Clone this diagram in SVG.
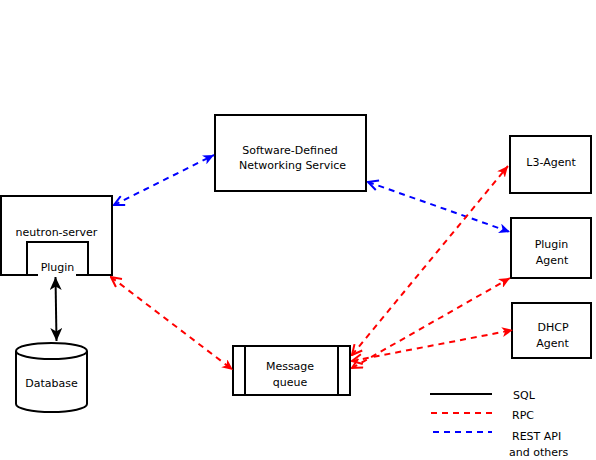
<svg xmlns="http://www.w3.org/2000/svg" width="596" height="460" viewBox="0 0 596 460">
<style>
.box{fill:#fff;stroke:#000;stroke-width:2}
.t{font-family:"DejaVu Sans",Verdana,sans-serif;font-size:11px;fill:#000;text-anchor:middle}
.tl{font-family:"DejaVu Sans",Verdana,sans-serif;font-size:11px;fill:#000}
.red{fill:none;stroke:#ff0000;stroke-width:2;stroke-dasharray:6 5}
.blue{fill:none;stroke:#0000ff;stroke-width:2;stroke-dasharray:6 5}
.blk{fill:none;stroke:#000;stroke-width:2}
</style>
<defs>
<marker id="fr" markerUnits="userSpaceOnUse" markerWidth="12" markerHeight="10" refX="11" refY="5" orient="auto-start-reverse" viewBox="0 0 12 10"><path d="M0,0 L11,5 L0,10 L3,5 Z" fill="#ff0000"/></marker>
<marker id="fb" markerUnits="userSpaceOnUse" markerWidth="12" markerHeight="10" refX="11" refY="5" orient="auto-start-reverse" viewBox="0 0 12 10"><path d="M0,0 L11,5 L0,10 L3,5 Z" fill="#0000ff"/></marker>
<marker id="fk" markerUnits="userSpaceOnUse" markerWidth="14" markerHeight="12" refX="13" refY="6" orient="auto-start-reverse" viewBox="0 0 14 12"><path d="M0,0 L13,6 L0,12 L3.5,6 Z" fill="#000"/></marker>
<marker id="or" markerUnits="userSpaceOnUse" markerWidth="12" markerHeight="12" refX="11" refY="6" orient="auto-start-reverse" viewBox="0 0 12 12"><path d="M1,1 L11,6 L1,11" fill="none" stroke="#ff0000" stroke-width="2"/></marker>
<marker id="ob" markerUnits="userSpaceOnUse" markerWidth="12" markerHeight="12" refX="11" refY="6" orient="auto-start-reverse" viewBox="0 0 12 12"><path d="M1,1 L11,6 L1,11" fill="none" stroke="#0000ff" stroke-width="2"/></marker>
</defs>
<rect width="596" height="460" fill="#fff"/>

<g id="neutron-server">
<rect class="box" x="1" y="196" width="111" height="79"/>
<text class="t" x="56.5" y="236">neutron-server</text>
</g>
<g id="plugin">
<rect class="box" x="27" y="242" width="61" height="33"/>
<rect x="38" y="261" width="38" height="16" fill="#fff"/>
<text class="t" x="57.5" y="271">Plugin</text>
</g>
<g id="database">
<path class="box" d="M16,351 A35.5,8 0 0 1 87,351 L87,404 A35.5,8 0 0 1 16,404 Z"/>
<path class="blk" d="M16,351 A35.5,8 0 0 0 87,351"/>
<text class="t" x="51.5" y="387">Database</text>
</g>
<g id="sdn">
<rect class="box" x="215" y="115" width="151" height="76"/>
<text class="t" x="290" y="154">Software-Defined</text>
<text class="t" x="292.5" y="169">Networking Service</text>
</g>
<g id="l3-agent">
<rect class="box" x="510" y="136" width="81" height="57"/>
<text class="t" x="551" y="166">L3-Agent</text>
</g>
<g id="plugin-agent">
<rect class="box" x="511" y="218" width="80" height="60"/>
<text class="t" x="551.5" y="248">Plugin</text>
<text class="t" x="552" y="264">Agent</text>
</g>
<g id="dhcp-agent">
<rect class="box" x="512" y="303" width="79" height="55"/>
<text class="t" x="553" y="331">DHCP</text>
<text class="t" x="552.5" y="347">Agent</text>
</g>
<g id="message-queue">
<rect class="box" x="233" y="346" width="117" height="49"/>
<line class="blk" x1="245" y1="346" x2="245" y2="395"/>
<line class="blk" x1="338" y1="346" x2="338" y2="395"/>
<text class="t" x="290" y="370">Message</text>
<text class="t" x="290" y="386">queue</text>
</g>

<g id="connectors">
<line class="blk" x1="55.5" y1="277" x2="56.5" y2="341" marker-start="url(#fk)" marker-end="url(#fk)"/>
<line class="blue" x1="114" y1="205" x2="214" y2="155" marker-start="url(#ob)" marker-end="url(#fb)"/>
<line class="blue" x1="368" y1="182" x2="510" y2="232" marker-start="url(#ob)" marker-end="url(#fb)"/>
<line class="red" x1="111" y1="277" x2="233" y2="370" marker-start="url(#or)" marker-end="url(#fr)"/>
<line class="red" x1="352" y1="355" x2="508" y2="166" marker-start="url(#or)" marker-end="url(#fr)"/>
<line class="red" x1="352" y1="368" x2="510" y2="278" marker-start="url(#or)" marker-end="url(#fr)"/>
<line class="red" x1="352" y1="361" x2="513" y2="330" marker-start="url(#or)" marker-end="url(#fr)"/>
</g>

<g id="legend">
<line class="blk" x1="430" y1="394" x2="492" y2="394"/>
<line class="red" x1="431" y1="413" x2="492" y2="413"/>
<line class="blue" x1="433" y1="432" x2="492" y2="432"/>
<text class="tl" x="513" y="399">SQL</text>
<text class="tl" x="512" y="419">RPC</text>
<text class="tl" x="512" y="440">REST API</text>
<text class="tl" x="509" y="456">and others</text>
</g>
</svg>
